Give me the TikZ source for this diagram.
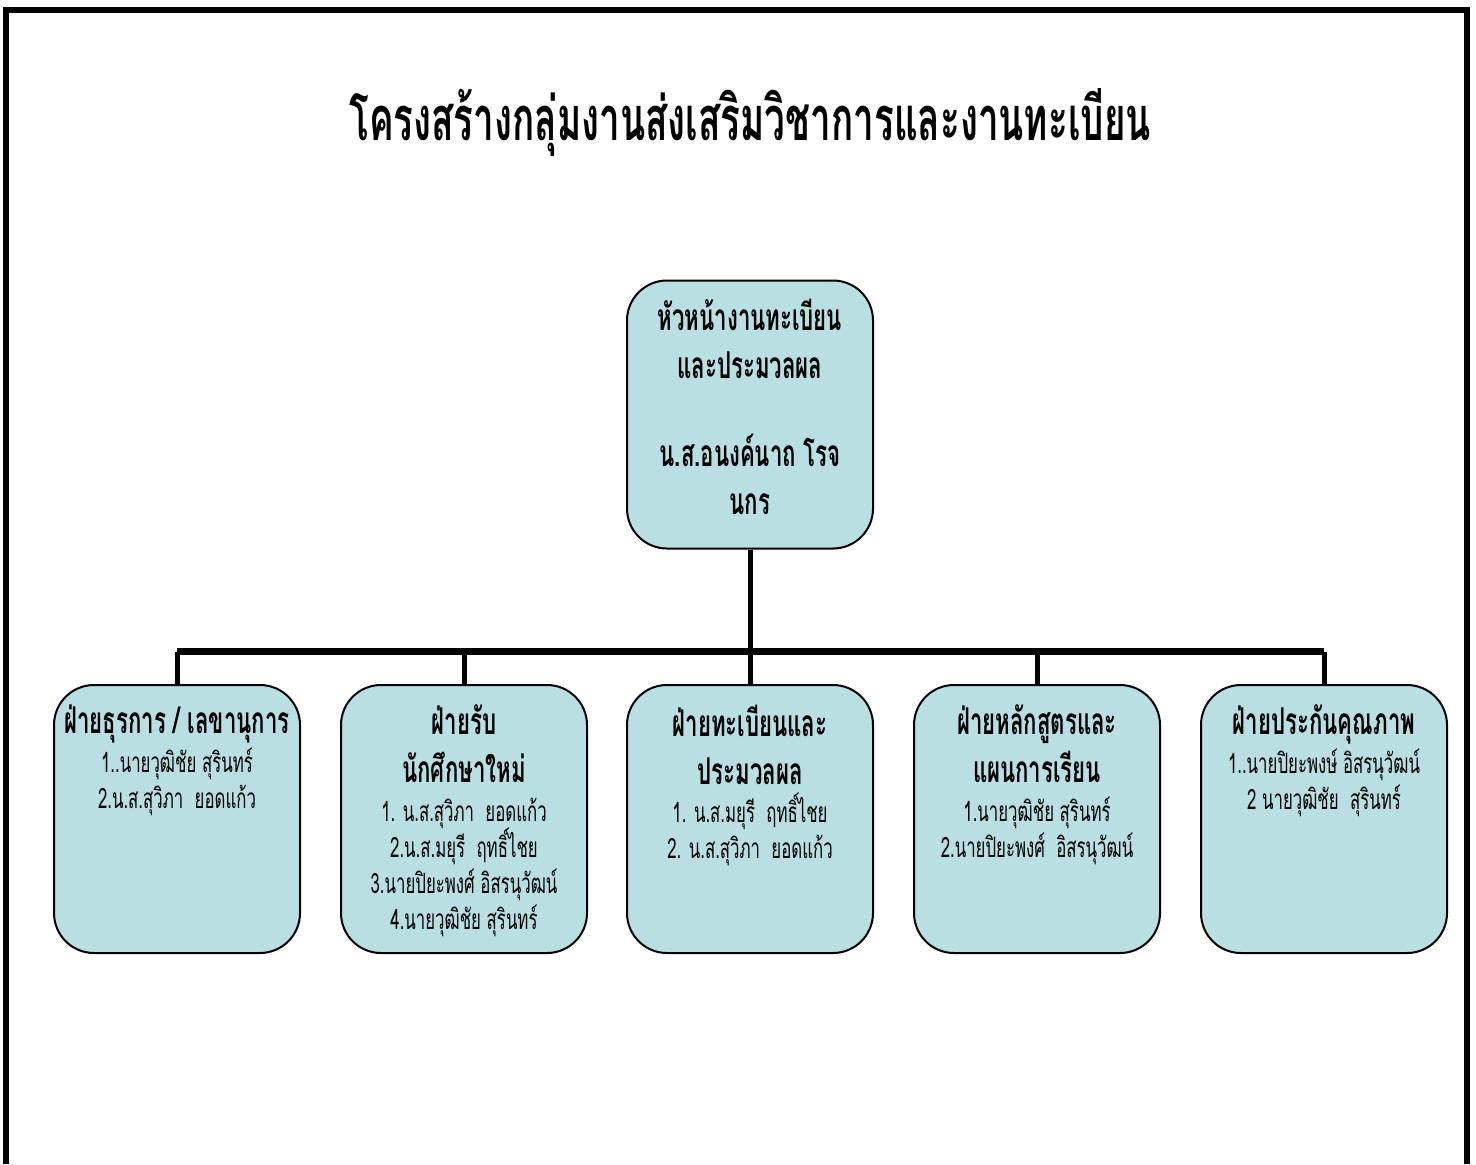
\documentclass[tikz,border=0pt]{standalone}
\usepackage{fontspec}
\setmainfont[Script=Thai, FakeStretch=0.6]{Loma}
\definecolor{boxblue}{RGB}{185,223,227}
\newcommand{\headfont}{\fontsize{18.5}{24}\selectfont\bfseries\lineskiplimit=-\maxdimen}
\newcommand{\namefont}{\fontsize{14}{18}\selectfont\mdseries\lineskiplimit=-\maxdimen}
\begin{document}
\begin{tikzpicture}[x=0.5pt, y=-0.5pt,
  unit/.style={draw, line width=1pt, rounded corners=20pt, fill=boxblue, minimum width=123pt, minimum height=134pt, inner sep=0pt},
  link/.style={line width=2.5pt},
  busline/.style={line width=3.5pt}]
\useasboundingbox (0,0) rectangle (1476,1164);
% page frame, open at the bottom
\draw[line width=3pt] (5.5,1164) -- (5.5,10) -- (1467,10) -- (1467,1164);
\node[font=\fontsize{30.7}{36}\selectfont\bfseries] (title) at (750,122) {โครงสร้างกลุ่มงานส่งเสริมวิชาการและงานทะเบียน};
% head of the group
\node[unit] (head) at (750,414.5) {\parbox[c][130pt][t]{120pt}{\centering\vspace*{7.5pt}\headfont หัวหน้างานทะเบียน\\และประมวลผล\\[20pt]น.ส.อนงค์นาถ โรจ\\นกร}};
% the five sections
\node[unit] (c1) at (177,819) {\parbox[c][130pt][t]{120pt}{\centering\vspace*{8pt}\headfont \mbox{ฝ่ายธุรการ / เลขานุการ}\par\vspace{1.2pt}\namefont 1..นายวุฒิชัย สุรินทร์\\2.น.ส.สุวิภา\ \ ยอดแก้ว}};
\node[unit] (c2) at (464,819) {\parbox[c][130pt][t]{120pt}{\centering\vspace*{8pt}\headfont ฝ่ายรับ\\นักศึกษาใหม่\par\vspace{1.2pt}\namefont 1. น.ส.สุวิภา\ \ ยอดแก้ว\\2.น.ส.มยุรี\ \ ฤทธิ์ไชย\\3.นายปิยะพงศ์ อิสรนุวัฒน์\\4.นายวุฒิชัย สุรินทร์}};
\node[unit] (c3) at (750,819) {\parbox[c][130pt][t]{120pt}{\centering\vspace*{8pt}\headfont ฝ่ายทะเบียนและ\\ประมวลผล\par\vspace{1.2pt}\namefont 1. น.ส.มยุรี\ \ ฤทธิ์ไชย\\2. น.ส.สุวิภา\ \ ยอดแก้ว}};
\node[unit] (c4) at (1037,819) {\parbox[c][130pt][t]{120pt}{\centering\vspace*{8pt}\headfont ฝ่ายหลักสูตรและ\\แผนการเรียน\par\vspace{1.2pt}\namefont 1.นายวุฒิชัย สุรินทร์\\2.นายปิยะพงศ์\ \ อิสรนุวัฒน์}};
\node[unit] (c5) at (1324,819) {\parbox[c][130pt][t]{120pt}{\centering\vspace*{8pt}\headfont ฝ่ายประกันคุณภาพ\par\vspace{1.2pt}\namefont 1..นายปิยะพงษ์ อิสรนุวัฒน์\\2 นายวุฒิชัย\ \ สุรินทร์}};
\coordinate (bar) at (750,651.5);
\draw[link] (head.south) -- (bar);
\draw[busline] (c1.north |- bar) -- (c5.north |- bar);
\foreach \i in {1,...,5}
  \draw[link] (c\i.north) -- (c\i.north |- bar);
\end{tikzpicture}
\end{document}
